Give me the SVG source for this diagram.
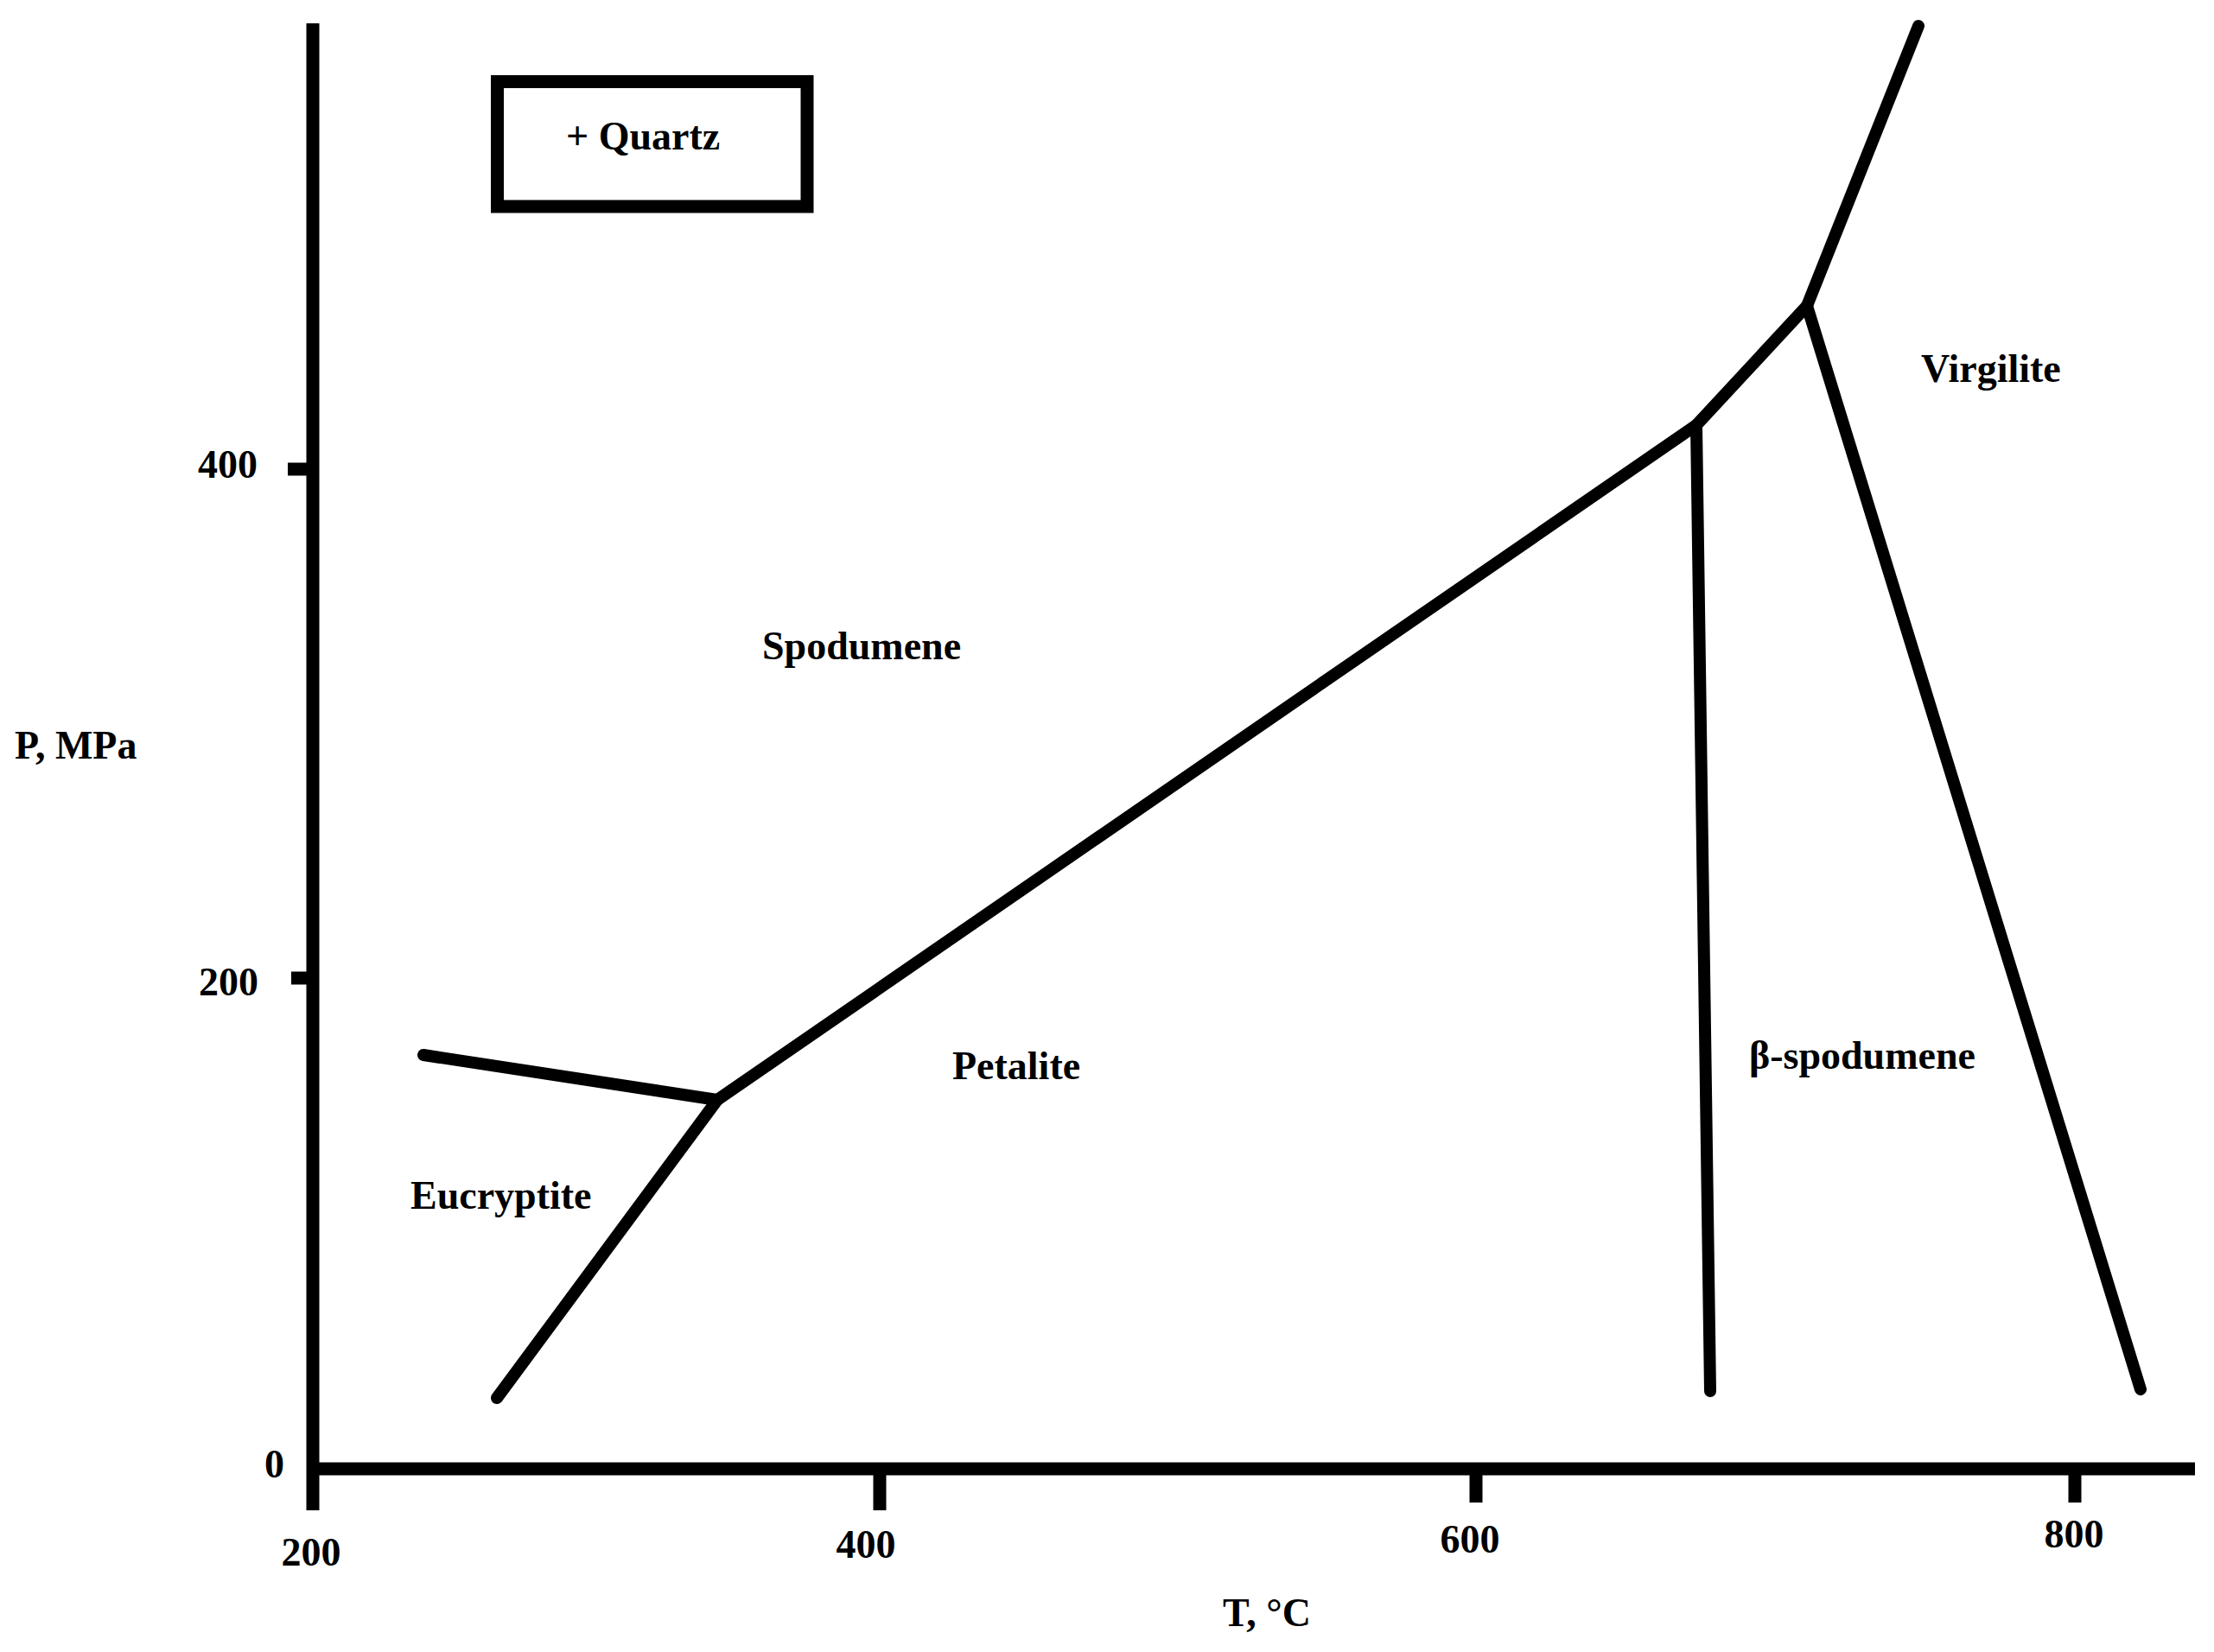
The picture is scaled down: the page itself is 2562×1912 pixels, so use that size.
<svg xmlns="http://www.w3.org/2000/svg" width="2562" height="1912" viewBox="0 0 2562 1912">
<style>
.ln{stroke:#000;stroke-width:14;stroke-linecap:round;stroke-linejoin:round;fill:none}
.ax{stroke:#000;stroke-width:15;stroke-linecap:butt;fill:none}
.t{font-family:"Liberation Serif","Times New Roman",serif;font-weight:bold;font-size:46px;fill:#000}
.e{text-anchor:end}
.m{text-anchor:middle}
</style>
<rect width="2562" height="1912" fill="#fff"/>
<g id="axes">
<line class="ax" x1="362" y1="27" x2="362" y2="1748"/>
<line class="ax" x1="355" y1="1700" x2="2540" y2="1700"/>
<line class="ax" x1="333" y1="543" x2="362" y2="543"/>
<line class="ax" x1="337" y1="1132" x2="362" y2="1132"/>
<line class="ax" x1="1018" y1="1700" x2="1018" y2="1748"/>
<line class="ax" x1="1708" y1="1700" x2="1708" y2="1739"/>
<line class="ax" x1="2401" y1="1700" x2="2401" y2="1739"/>
<text class="t e" x="298" y="553">400</text>
<text class="t e" x="299" y="1152">200</text>
<text class="t e" x="329" y="1710">0</text>
<text class="t" x="17" y="878">P, MPa</text>
<text class="t m" x="360" y="1812">200</text>
<text class="t m" x="1002" y="1803">400</text>
<text class="t m" x="1701" y="1797">600</text>
<text class="t m" x="2400" y="1791">800</text>
<text class="t" x="1415" y="1882">T, °C</text>
</g>
<g id="connectors">
<polyline class="ln" points="490,1221 830,1273 1963,492 2091,354 2220,30"/>
<line class="ln" x1="830" y1="1273" x2="575" y2="1618"/>
<line class="ln" x1="1963" y1="492" x2="1979" y2="1610"/>
<line class="ln" x1="2091" y1="354" x2="2477" y2="1608"/>
</g>
<g id="quartz">
<rect x="575.5" y="94.5" width="358.5" height="144.5" fill="none" stroke="#000" stroke-width="15"/>
<text class="t" x="655" y="173">+ Quartz</text>
</g>
<g id="spodumene"><text class="t" x="882" y="763">Spodumene</text></g>
<g id="petalite"><text class="t" x="1102" y="1249">Petalite</text></g>
<g id="eucryptite"><text class="t" x="475" y="1399">Eucryptite</text></g>
<g id="beta-spodumene"><text class="t" x="2024" y="1237">β-spodumene</text></g>
<g id="virgilite"><text class="t" x="2223" y="442">Virgilite</text></g>
</svg>
